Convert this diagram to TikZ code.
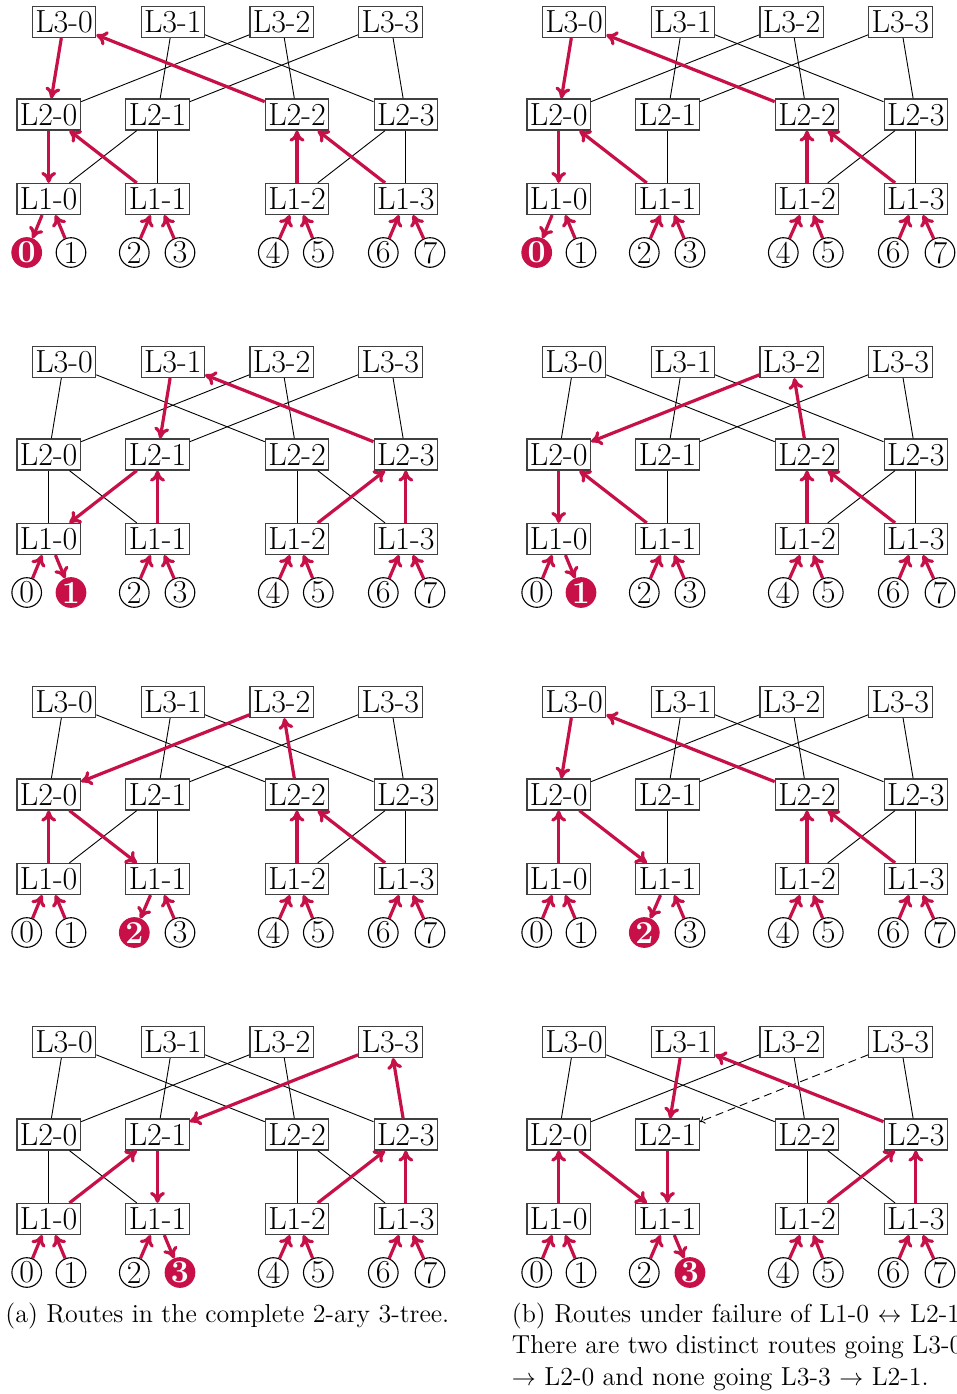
\documentclass[tikz,border=0pt]{standalone}
\usetikzlibrary{arrows.meta}
\definecolor{crim}{RGB}{200,16,72}
\tikzset{
  sw/.style={draw=black!75, line width=0.6pt, fill=white, inner sep=0pt,
    minimum width=31.7pt, minimum height=15.5pt, font=\fontsize{16}{19}\selectfont},
  leaf/.style={circle, draw=black, line width=0.55pt, fill=white, inner sep=0pt,
    minimum size=14.8pt, font=\fontsize{16}{19}\selectfont},
  leafd/.style={circle, draw=crim, line width=0.55pt, fill=crim, text=white, inner sep=0pt,
    minimum size=14.8pt, font=\fontsize{16}{19}\selectfont\bfseries},
  net/.style={black, line width=0.45pt},
  route/.style={crim, line width=1.6pt, -{To[length=5.5pt,width=7.5pt]}},
  failarrow/.style={black, line width=0.45pt, dash pattern=on 4pt off 2.5pt, -{To[length=2.5pt,width=4pt]}},
  captext/.style={inner sep=0pt, font=\fontsize{13}{15.65}\selectfont},
}
\newcommand{\mktree}[4]{%
  \foreach \k/\x in {0/64,1/172.8,2/281.6,3/390.4}
    \node[sw] (#1-3-\k) at ({#2+\x},{#3+22}) {L3-\k};
  \foreach \k/\x in {0/48.7,1/157.5,2/297,3/405.8} {
    \node[sw] (#1-2-\k) at ({#2+\x},{#3+114.5}) {L2-\k};
    \node[sw] (#1-1-\k) at ({#2+\x},{#3+199}) {L1-\k};
  }
  \foreach \k/\x in {0/26.7,1/71,2/134.3,3/180,4/273.3,5/318.3,6/383.3,7/430} {
    \ifnum\k=#4\relax\tikzset{leafsty/.style={leafd}}\else\tikzset{leafsty/.style={leaf}}\fi
    \node[leafsty] (#1-0-\k) at ({#2+\x},{#3+252.5}) {\k};
  }
}
\newcommand{\nets}[2]{\foreach \u/\v in {#2} \draw[net] (#1-\u) -- (#1-\v);}
\newcommand{\routes}[2]{\foreach \u/\v in {#2} \draw[route] (#1-\u) -- (#1-\v);}
\begin{document}
\begin{tikzpicture}[x=0.5pt,y=-0.5pt]
\useasboundingbox (0,0) rectangle (957,1394);
% ---------- row 1 : destination 0
\mktree{a1}{0}{0}{0}
\nets{a1}{1-0/2-1,1-1/2-1,1-2/2-3,1-3/2-3,2-0/3-2,2-1/3-1,2-1/3-3,2-2/3-2,2-3/3-1,2-3/3-3}
\routes{a1}{1-0/0-0,0-1/1-0,0-2/1-1,0-3/1-1,1-1/2-0,2-0/1-0,3-0/2-0,2-2/3-0,0-4/1-2,0-5/1-2,0-6/1-3,0-7/1-3,1-2/2-2,1-3/2-2}
\mktree{b1}{510}{0}{0}
\nets{b1}{1-1/2-1,1-2/2-3,1-3/2-3,2-0/3-2,2-1/3-1,2-1/3-3,2-2/3-2,2-3/3-1,2-3/3-3}
\routes{b1}{1-0/0-0,0-1/1-0,0-2/1-1,0-3/1-1,1-1/2-0,2-0/1-0,3-0/2-0,2-2/3-0,0-4/1-2,0-5/1-2,0-6/1-3,0-7/1-3,1-2/2-2,1-3/2-2}
% ---------- row 2 : destination 1
\mktree{a2}{0}{340}{1}
\nets{a2}{1-0/2-0,1-1/2-0,1-2/2-2,1-3/2-2,2-0/3-0,2-0/3-2,2-1/3-3,2-2/3-0,2-2/3-2,2-3/3-3}
\routes{a2}{1-0/0-1,0-0/1-0,2-1/1-0,1-1/2-1,0-2/1-1,0-3/1-1,3-1/2-1,2-3/3-1,1-2/2-3,1-3/2-3,0-4/1-2,0-5/1-2,0-6/1-3,0-7/1-3}
\mktree{b2}{510}{340}{1}
\nets{b2}{1-1/2-1,1-2/2-3,1-3/2-3,2-0/3-0,2-1/3-1,2-1/3-3,2-2/3-0,2-3/3-1,2-3/3-3}
\routes{b2}{1-0/0-1,0-0/1-0,2-0/1-0,1-1/2-0,0-2/1-1,0-3/1-1,3-2/2-0,2-2/3-2,1-2/2-2,1-3/2-2,0-4/1-2,0-5/1-2,0-6/1-3,0-7/1-3}
% ---------- row 3 : destination 2
\mktree{a3}{0}{680}{2}
\nets{a3}{1-0/2-1,1-1/2-1,1-2/2-3,1-3/2-3,2-0/3-0,2-1/3-1,2-1/3-3,2-2/3-0,2-3/3-1,2-3/3-3}
\routes{a3}{1-1/0-2,0-3/1-1,0-0/1-0,0-1/1-0,1-0/2-0,2-0/1-1,3-2/2-0,2-2/3-2,1-2/2-2,1-3/2-2,0-4/1-2,0-5/1-2,0-6/1-3,0-7/1-3}
\mktree{b3}{510}{680}{2}
\nets{b3}{1-1/2-1,1-2/2-3,1-3/2-3,2-0/3-2,2-1/3-1,2-1/3-3,2-2/3-2,2-3/3-1,2-3/3-3}
\routes{b3}{1-1/0-2,0-3/1-1,0-0/1-0,0-1/1-0,1-0/2-0,2-0/1-1,3-0/2-0,2-2/3-0,1-2/2-2,1-3/2-2,0-4/1-2,0-5/1-2,0-6/1-3,0-7/1-3}
% ---------- row 4 : destination 3
\mktree{a4}{0}{1020}{3}
\nets{a4}{1-0/2-0,1-1/2-0,1-2/2-2,1-3/2-2,2-0/3-0,2-0/3-2,2-1/3-1,2-2/3-0,2-2/3-2,2-3/3-1}
\routes{a4}{1-1/0-3,0-2/1-1,0-0/1-0,0-1/1-0,1-0/2-1,2-1/1-1,3-3/2-1,2-3/3-3,1-2/2-3,1-3/2-3,0-4/1-2,0-5/1-2,0-6/1-3,0-7/1-3}
\mktree{b4}{510}{1020}{3}
\nets{b4}{1-2/2-2,1-3/2-2,2-0/3-0,2-0/3-2,2-2/3-0,2-2/3-2,2-3/3-3}
\draw[failarrow] (b4-3-3) -- (b4-2-1);
\routes{b4}{1-1/0-3,0-2/1-1,0-0/1-0,0-1/1-0,1-0/2-0,2-0/1-1,2-1/1-1,3-1/2-1,2-3/3-1,1-2/2-3,1-3/2-3,0-4/1-2,0-5/1-2,0-6/1-3,0-7/1-3}
% ---------- captions
\node[captext, anchor=base west] (capa) at (5,1322) {(a) Routes in the complete 2-ary 3-tree.};
\node[captext, anchor=north west, align=left] (capb) at (511.5,1302.5)
  {(b) Routes under failure of L1-0 $\leftrightarrow$ L2-1.\\
   There are two distinct routes going L3-0\\
   $\rightarrow$ L2-0 and none going L3-3 $\rightarrow$ L2-1.};
\end{tikzpicture}
\end{document}
